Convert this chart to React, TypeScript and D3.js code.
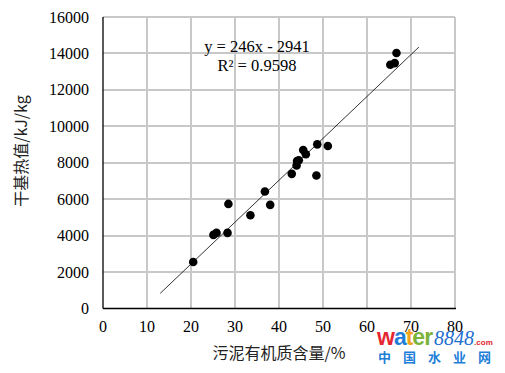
import * as d3 from 'd3';
import React from 'react';

// 污泥有机质含量 (%) 与 干基热值 (kJ/kg)
const organicPct = [20.5, 25.1, 25.8, 28.3, 28.5, 33.5, 36.8, 38.0, 42.9, 44.0, 44.1, 44.5, 45.5, 46.1, 48.5, 48.7, 51.1, 65.3, 66.3, 66.7];
const heatValue = [2550, 4040, 4150, 4150, 5740, 5120, 6420, 5690, 7390, 7850, 8100, 8140, 8700, 8470, 7300, 9010, 8920, 13380, 13470, 14020];

// trendline as drawn in the source picture
const trendX = [13, 71.8];
const trendY = [830, 14350];

const xTicks = [0, 10, 20, 30, 40, 50, 60, 70, 80];
const yTicks = [0, 2000, 4000, 6000, 8000, 10000, 12000, 14000, 16000];

const eqLines = ['y = 246x - 2941', 'R² = 0.9598'];

const serif = 'Liberation Serif, Times New Roman, DejaVu Serif, serif';
const cjk = 'Noto Sans CJK SC, sans-serif';

const wmLetters = ['w', 'a', 't', 'e', 'r'];
const wmColors = ['#e3262f', '#1f7fd8', '#f2a21b', '#7bb33a', '#7bb33a'];

function App() {
    const left = 103, right = 455, top = 17, bottom = 308.5;
    const x = d3.scaleLinear().domain([0, 80]).range([left, right]);
    const y = d3.scaleLinear().domain([0, 16000]).range([bottom, top]);
    const line = d3.line<number>().x((d, i) => x(trendX[i])).y(d => y(d));

    return (
        <svg width={505} height={373} style={{ position: 'absolute', left: 0, top: 0, background: '#fff' }}>
            {/* grid */}
            <g stroke="#c8c8c8" strokeWidth={2}>
                {xTicks.slice(1).map(t => (
                    <line key={'vx' + t} x1={Math.round(x(t))} x2={Math.round(x(t))} y1={top} y2={bottom} />
                ))}
                {yTicks.slice(1).map(t => (
                    <line key={'hy' + t} x1={left} x2={right} y1={Math.round(y(t))} y2={Math.round(y(t))} />
                ))}
            </g>
            {/* axes */}
            <line x1={left} x2={left} y1={top} y2={bottom} stroke="#000" strokeWidth={1.3} />
            <line x1={left} x2={right + 1} y1={bottom} y2={bottom} stroke="#000" strokeWidth={1.3} />

            {yTicks.map(t => (
                <text key={'yl' + t} x={89} y={y(t) + 5.5} textAnchor="end" fontFamily={serif} fontSize={16}>{t}</text>
            ))}
            {xTicks.map(t => (
                <text key={'xl' + t} x={x(t)} y={332} textAnchor="middle" fontFamily={serif} fontSize={16}>{t}</text>
            ))}

            <text x={279} y={359} textAnchor="middle" fontFamily={cjk} fontSize={16} fill="#222">污泥有机质含量/%</text>
            <text transform="translate(27,151) rotate(-90)" textAnchor="middle" fontFamily={cjk} fontSize={16} fill="#222">干基热值/kJ/kg</text>

            <path d={line(trendY) || ''} fill="none" stroke="#000" strokeWidth={0.8} />

            {organicPct.map((v, i) => (
                <circle key={'p' + i} cx={x(v)} cy={y(heatValue[i])} r={4.3} fill="#000" />
            ))}

            {eqLines.map((s, i) => (
                <text key={'eq' + i} x={257} y={52 + i * 19} textAnchor="middle" fontFamily={serif} fontSize={16.5}>{s}</text>
            ))}

            {/* watermark */}
            <text x={377} y={345} fontFamily="Liberation Sans, Arial, sans-serif" fontSize={23} fontWeight="bold" letterSpacing={-1}>
                {wmLetters.map((c, i) => <tspan key={c + i} fill={wmColors[i]}>{c}</tspan>)}
                <tspan dx={2} fill="#1f6fd0" fontFamily={serif} fontStyle="italic" fontWeight="normal" fontSize={20} letterSpacing={0}>8848</tspan>
                <tspan fill="#e3262f" fontSize={8} letterSpacing={0}>.com</tspan>
            </text>
            <text x={378} y={362} fontFamily={cjk} fontSize={13} fontWeight="bold" fill="#1f7fd8" letterSpacing={12}>中国水业网</text>
        </svg>
    );
}

export default App;
